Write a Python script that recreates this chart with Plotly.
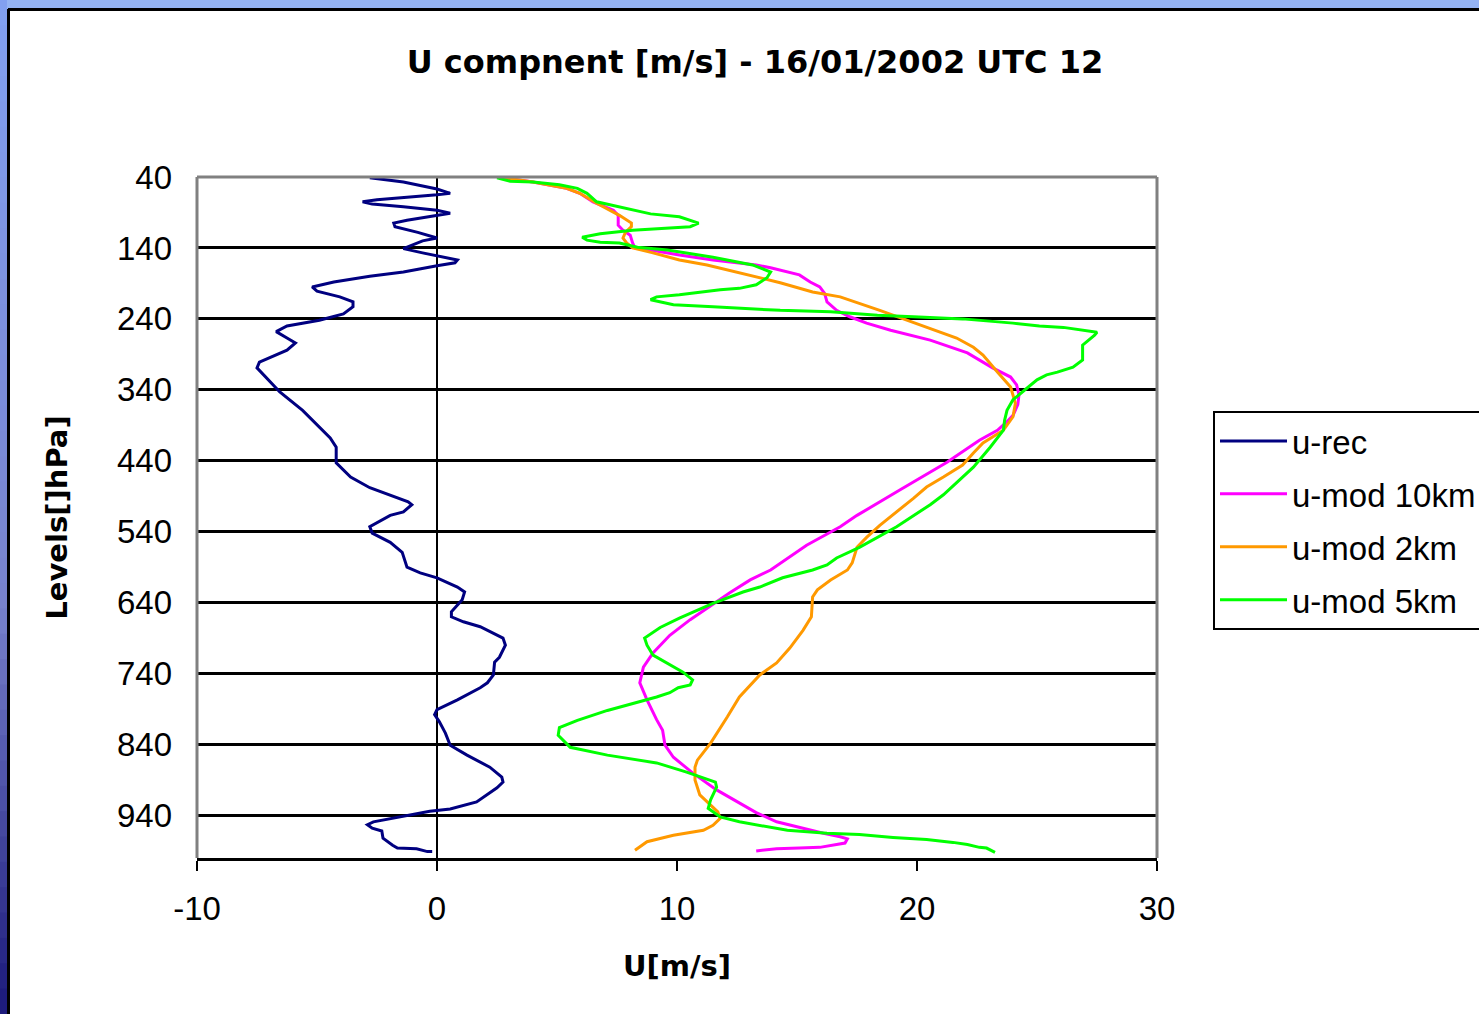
import plotly.graph_objects as go

# ---------------- data (u in m/s, p in hPa) ----------------
rec_u = [-2.8, -1.4, 0.0, 0.55, 0.0, -1.25, -2.5, -3.1, -2.7, -1.4, 0.0, 0.55, 0.0, -1.25, -1.8, -1.75,
         -0.8, 0.0, -0.6, -1.3, -1.4, -0.6, 0.25, 0.85, 0.75, 0.0, -1.4, -2.8, -4.3, -5.2, -5.0, -4.05,
         -3.5, -3.5, -3.9, -4.9, -6.25, -6.7, -6.25, -5.9, -6.25, -7.4, -7.5, -7.1, -6.55, -5.6, -4.45,
         -4.2, -4.2, -3.6, -2.8, -1.2, -1.05, -1.4, -1.95, -2.8, -2.7, -1.95, -1.45, -1.25, -0.7, 0.0,
         0.85, 1.15, 1.05, 0.6, 0.6, 1.1, 1.8, 2.75, 2.85, 2.6, 2.4, 2.35, 2.1, 1.8, 0.85, 0.0, -0.1,
         0.1, 0.35, 0.55, 1.25, 2.2, 2.7, 2.75, 2.5, 1.65, 0.55, -0.3, -1.65, -2.65, -2.9, -2.7, -2.3,
         -2.25, -1.85, -1.65, -0.85, -0.4, -0.2]
rec_p = [41, 47, 57, 63, 65, 68, 72, 75, 78, 82, 87, 91, 94, 101, 105, 110,
         118, 126, 130, 139, 141, 147, 153, 157, 161, 165, 174, 180, 188, 195, 201, 209,
         216, 223, 233, 242, 250, 258, 267, 274, 284, 301, 309, 323, 343, 369, 408,
         421, 443, 463, 478, 498, 502, 512, 517, 533, 542, 555, 569, 590, 598, 605,
         618, 625, 636, 653, 660, 667, 674, 690, 700, 717, 724, 742, 753, 760, 777, 791, 798,
         808, 824, 841, 855, 872, 886, 893, 901, 921, 931, 934, 942, 949, 953, 958, 962,
         972, 982, 986, 987, 991, 991]

m10_u = [2.75, 4.0, 5.4, 5.95, 6.5, 7.35, 7.55, 7.55, 7.75, 8.05, 8.15, 8.25, 8.9, 10.1, 11.5, 13.3,
         13.9, 15.1, 15.55, 15.95, 16.15, 16.25, 16.65, 17.2, 17.9, 18.9, 20.55, 22.1, 23.15, 23.9,
         24.15, 24.25, 24.2, 24.0, 23.75, 23.35, 22.6, 21.25, 19.3, 17.5, 16.8, 15.4, 13.9, 13.05,
         12.2, 11.65, 10.55, 9.7, 9.0, 8.6, 8.45, 8.75, 9.15, 9.4, 9.5, 9.85, 10.65, 11.65, 12.6,
         13.3, 14.15, 15.1, 16.1, 16.8, 17.1, 17.0, 16.5, 15.95, 15.1, 14.15, 13.3]
m10_p = [41, 47, 56, 63, 75, 87, 94, 108, 115, 122, 133, 140, 143, 150, 157, 164,
         168, 178, 188, 195, 204, 216, 228, 237, 246, 256, 270, 288, 309, 322,
         333, 347, 361, 376, 385, 397, 411, 442, 481, 517, 533, 559, 594, 608,
         626, 639, 664, 686, 711, 731, 753, 777, 805, 820, 841, 858, 880, 904, 922,
         936, 949, 957, 965, 970, 973, 979, 982, 985, 986, 987, 990]

m2_u = [2.75, 4.0, 5.4, 5.95, 6.65, 7.6, 8.1, 8.1, 7.85, 7.75, 7.9, 8.15, 9.0, 10.1, 11.25, 12.9,
        14.3, 15.65, 16.8, 18.45, 19.6, 20.55, 21.65, 22.35, 22.75, 23.35, 23.9, 24.1, 24.0, 23.6,
        22.75, 22.35, 21.9, 21.1, 20.4, 19.85, 19.15, 18.45, 17.9, 17.5, 17.3, 17.1, 16.4, 15.85,
        15.65, 15.6, 15.25, 14.7, 14.15, 13.45, 12.6, 12.1, 11.4, 10.85, 10.75, 10.75, 10.95, 11.4,
        11.7, 11.8, 11.5, 11.1, 9.85, 8.75, 8.25]
m2_p = [41, 47, 56, 63, 77, 94, 105, 110, 118, 126, 133, 140, 147, 157, 164, 178,
        189, 202, 209, 228, 242, 253, 267, 280, 291, 315, 336, 359, 378, 397,
        415, 429, 446, 463, 477, 493, 512, 531, 548, 562, 584, 594, 608, 622,
        632, 660, 679, 704, 725, 742, 773, 801, 838, 862, 872, 890, 911, 925,
        935, 944, 954, 961, 968, 977, 989]

m5_u = [2.5, 3.05, 4.0, 5.1, 5.85, 6.25, 6.65, 7.6, 8.9, 10.1, 10.9, 10.55, 9.3, 8.15, 6.8, 6.05,
        6.25, 6.8, 7.6, 8.35, 9.6, 11.5, 13.15, 13.9, 13.75, 13.3, 12.6, 11.8, 10.1, 9.15, 8.9, 9.3,
        9.85, 11.5, 14.3, 16.4, 17.1, 18.35, 19.85, 21.9, 24.0, 25.1, 26.1, 27.5, 27.4, 26.9, 26.9,
        26.5, 25.85, 25.4, 25.0, 24.6, 24.0, 23.75, 23.65, 23.6, 23.05, 22.35, 21.1, 20.55, 19.15,
        17.6, 16.65, 16.25, 15.65, 14.4, 13.45, 12.75, 11.5, 10.1, 9.3, 8.65, 8.75, 9.0, 9.6, 10.25,
        10.65, 10.55, 10.05, 9.7, 9.15, 8.15, 7.1, 5.85, 5.1, 5.05, 5.55, 7.1, 9.15, 10.4, 11.6,
        11.65, 11.4, 11.3, 11.8, 12.6, 13.45, 14.6, 16.25, 17.6, 19.0, 20.4, 21.5, 22.1, 22.6,
        22.9, 23.25]
m5_p = [41, 46, 47, 51, 56, 63, 75, 82, 92, 96, 105, 110, 113, 115, 120, 125,
        129, 132, 133, 139, 143, 153, 164, 174, 182, 192, 197, 199, 206, 209, 213, 216,
        220, 223, 228, 230, 232, 235, 237, 240, 246, 250, 252, 259, 263, 277, 298,
        308, 315, 319, 326, 337, 354, 369, 383, 397, 421, 449, 488, 502, 533,
        562, 577, 587, 594, 605, 618, 625, 641, 662, 675, 690, 700, 714, 725, 738,
        749, 756, 760, 767, 773, 782, 792, 806, 816, 827, 844, 855, 866, 879, 893,
        900, 918, 930, 942, 949, 954, 961, 965, 967, 971, 974, 978, 981, 985,
        986, 992]

series_names = ["u-rec", "u-mod 10km", "u-mod 2km", "u-mod 5km"]
series_colors = ["#000080", "#FF00FF", "#FF9900", "#00FF00"]
x_ticks = [-10, 0, 10, 20, 30]
x_tick_labels = ["-10", "0", "10", "20", "30"]
y_ticks = [40, 140, 240, 340, 440, 540, 640, 740, 840, 940]

# ---------------- figure ----------------
W, H = 1479, 1014
L, R, T, B = 197, 322, 177, 156
PW, PH = W - L - R, H - T - B


def px(x):
    return (x - L) / PW


def py(y):
    return (H - B - y) / PH


fig = go.Figure()
for name, col, xs, ys in zip(series_names, series_colors,
                             [rec_u, m10_u, m2_u, m5_u], [rec_p, m10_p, m2_p, m5_p]):
    fig.add_trace(go.Scatter(x=xs, y=ys, mode="lines", name=name, legendgroup=name,
                             line=dict(color=col, width=3)))

shapes = []
# blue decorative frame (gradient on the left, light band on top)
shapes.append(dict(type="rect", xref="paper", yref="paper", x0=px(0), x1=px(W), y0=py(9), y1=py(0),
                   fillcolor="#94b3f3", line=dict(width=0), layer="below"))
n = 40
c_top = (130, 160, 240)
c_mid = (120, 130, 205)
c_bot = (30, 28, 125)
for i in range(n):
    t = i / (n - 1)
    if t < 0.6:
        k = t / 0.6
        c = [int(c_top[j] + (c_mid[j] - c_top[j]) * k) for j in range(3)]
    else:
        k = (t - 0.6) / 0.4
        c = [int(c_mid[j] + (c_bot[j] - c_mid[j]) * k) for j in range(3)]
    y0 = i * H / n
    y1 = (i + 1) * H / n + 1
    shapes.append(dict(type="rect", xref="paper", yref="paper", x0=px(0), x1=px(7),
                       y0=py(y1), y1=py(y0), fillcolor="rgb(%d,%d,%d)" % tuple(c),
                       line=dict(width=0), layer="below"))
# black chart-area border
shapes.append(dict(type="line", xref="paper", yref="paper", x0=px(8), x1=px(W), y0=py(9.5), y1=py(9.5),
                   line=dict(color="black", width=3), layer="above"))
shapes.append(dict(type="line", xref="paper", yref="paper", x0=px(8.5), x1=px(8.5), y0=py(9), y1=py(H),
                   line=dict(color="black", width=3), layer="above"))
# grey plot-area border (top, left, right)
shapes.append(dict(type="line", xref="paper", yref="paper", x0=0, x1=1, y0=1, y1=1,
                   line=dict(color="#808080", width=3), layer="above"))
shapes.append(dict(type="line", xref="paper", yref="paper", x0=0, x1=0, y0=0, y1=1,
                   line=dict(color="#808080", width=3), layer="above"))
shapes.append(dict(type="line", xref="paper", yref="paper", x0=1, x1=1, y0=0, y1=1,
                   line=dict(color="#808080", width=3), layer="above"))

tick_font = dict(family="Liberation Sans, Arial", size=33, color="black")
bold_font = dict(family="DejaVu Sans", size=29, color="black", weight="bold")

fig.update_layout(
    width=W, height=H,
    margin=dict(l=L, r=R, t=T, b=B, autoexpand=False),
    paper_bgcolor="white", plot_bgcolor="white",
    shapes=shapes,
    title=dict(text="U compnent [m/s] - 16/01/2002 UTC 12", x=755 / W, xref="container", xanchor="center",
               y=1 - 62 / H, yref="container", yanchor="middle",
               font=dict(family="DejaVu Sans", size=32, color="black", weight="bold")),
    xaxis=dict(range=[-10, 30], tickvals=x_ticks, ticktext=x_tick_labels, ticks="outside", ticklen=10,
               tickwidth=2, tickcolor="black", showline=True, linecolor="black", linewidth=3,
               showgrid=False, zeroline=True, zerolinecolor="black", zerolinewidth=2,
               tickfont=tick_font, ticklabelstandoff=9,
               title=dict(text="U[m/s]", font=bold_font, standoff=31)),
    yaxis=dict(range=[1000, 40], tickvals=y_ticks, ticks="", showline=False,
               showgrid=True, gridcolor="black", gridwidth=3, zeroline=False,
               tickfont=tick_font, ticklabelstandoff=24,
               title=dict(text="Levels[]hPa]\u00a0\u00a0", font=bold_font, standoff=40)),
    legend=dict(x=px(1213), y=py(411), xanchor="left", yanchor="top",
                bordercolor="black", borderwidth=2, bgcolor="white",
                font=tick_font, tracegroupgap=7, itemwidth=67),
    showlegend=True,
)

fig.write_html("out.html")
